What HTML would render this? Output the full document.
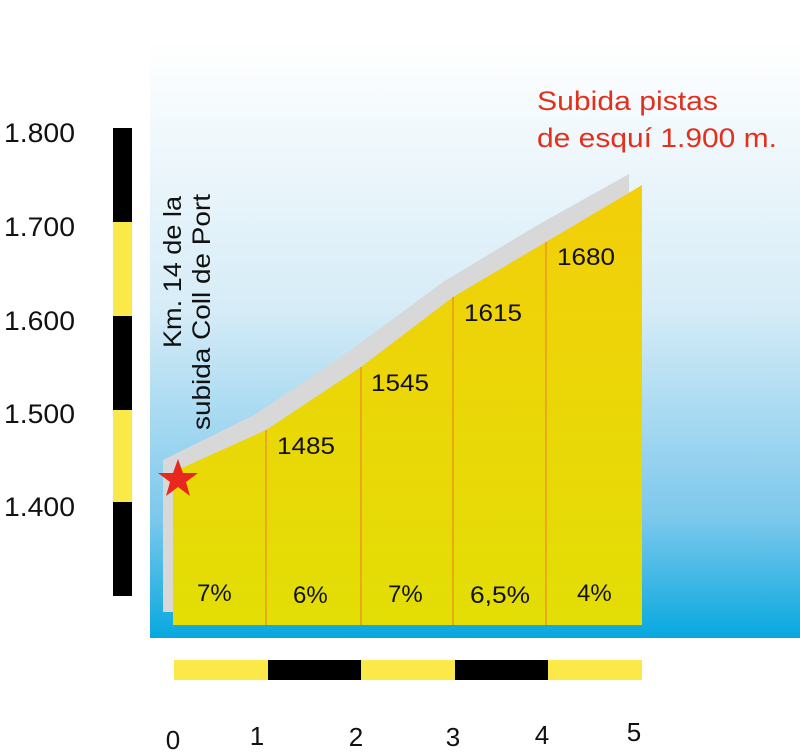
<!DOCTYPE html>
<html><head><meta charset="utf-8"><style>
body{margin:0;background:#fff;width:800px;height:756px;overflow:hidden}
svg{display:block}
text{font-family:"Liberation Sans",sans-serif}
</style></head><body>
<svg width="800" height="756" viewBox="0 0 800 756">
<defs>
<linearGradient id="bg" x1="0" y1="0" x2="0" y2="1">
<stop offset="0" stop-color="#ffffff"/>
<stop offset="0.45" stop-color="#d6ecf7"/>
<stop offset="0.8" stop-color="#7cc8ec"/>
<stop offset="1" stop-color="#07a8df"/>
</linearGradient>
<linearGradient id="yl" x1="0" y1="0" x2="0" y2="1">
<stop offset="0" stop-color="#f2cf0a"/>
<stop offset="1" stop-color="#e3de05"/>
</linearGradient>
</defs>
<rect x="150" y="40" width="650" height="598" fill="url(#bg)"/>
<polygon points="163,612 163,460 256,414 351,350 443,282 536,226 629,174 629,612" fill="#d8d8d8"/>
<polygon points="173,625 173,472 266,430 361,367 453,297 546,242 642,185 642,625" fill="url(#yl)"/>
<g stroke="#e88a20" stroke-width="1.2">
<line x1="266" y1="430" x2="266" y2="625"/>
<line x1="361" y1="367" x2="361" y2="625"/>
<line x1="453" y1="297" x2="453" y2="625"/>
<line x1="546" y1="242" x2="546" y2="625"/>
</g>
<polygon points="178,459 183,473 198,473 186,482 190,496 178,487 166,496 170,482 158,473 173,473" fill="#e8281c"/>
<g font-size="24" fill="#111">
<text x="277" y="454" textLength="58" lengthAdjust="spacingAndGlyphs">1485</text>
<text x="371" y="391" textLength="58" lengthAdjust="spacingAndGlyphs">1545</text>
<text x="464" y="321" textLength="58" lengthAdjust="spacingAndGlyphs">1615</text>
<text x="557" y="265" textLength="58" lengthAdjust="spacingAndGlyphs">1680</text>
<text x="197" y="601">7%</text>
<text x="293" y="603">6%</text>
<text x="388" y="602">7%</text>
<text x="470" y="603" textLength="60" lengthAdjust="spacingAndGlyphs">6,5%</text>
<text x="577" y="601">4%</text>
</g>
<g font-size="25" fill="#111">
<text transform="translate(181,348) rotate(-90)" textLength="152" lengthAdjust="spacingAndGlyphs">Km. 14 de la</text>
<text transform="translate(210,430) rotate(-90)" textLength="236" lengthAdjust="spacingAndGlyphs">subida Coll de Port</text>
</g>
<g font-size="27" fill="#e3301c">
<text x="537" y="110" textLength="181" lengthAdjust="spacingAndGlyphs">Subida pistas</text>
<text x="537" y="147" textLength="240" lengthAdjust="spacingAndGlyphs">de esquí 1.900 m.</text>
</g>
<rect x="113" y="128" width="19" height="94" fill="#000"/>
<rect x="113" y="222" width="19" height="94" fill="#fbe94a"/>
<rect x="113" y="316" width="19" height="94" fill="#000"/>
<rect x="113" y="410" width="19" height="92" fill="#fbe94a"/>
<rect x="113" y="502" width="19" height="94" fill="#000"/>
<g font-size="27" fill="#111">
<text x="4" y="142" textLength="71" lengthAdjust="spacingAndGlyphs">1.800</text>
<text x="4" y="236" textLength="71" lengthAdjust="spacingAndGlyphs">1.700</text>
<text x="4" y="330" textLength="71" lengthAdjust="spacingAndGlyphs">1.600</text>
<text x="4" y="423" textLength="71" lengthAdjust="spacingAndGlyphs">1.500</text>
<text x="4" y="516" textLength="71" lengthAdjust="spacingAndGlyphs">1.400</text>
</g>
<rect x="174" y="660" width="94" height="20" fill="#fbe94a"/>
<rect x="268" y="660" width="93" height="20" fill="#000"/>
<rect x="361" y="660" width="94" height="20" fill="#fbe94a"/>
<rect x="455" y="660" width="93" height="20" fill="#000"/>
<rect x="548" y="660" width="94" height="20" fill="#fbe94a"/>
<g font-size="26" fill="#111" text-anchor="middle">
<text x="173" y="749">0</text>
<text x="257" y="745">1</text>
<text x="356" y="746">2</text>
<text x="453" y="746">3</text>
<text x="542" y="744">4</text>
<text x="634" y="741">5</text>
</g>
</svg>
</body></html>
